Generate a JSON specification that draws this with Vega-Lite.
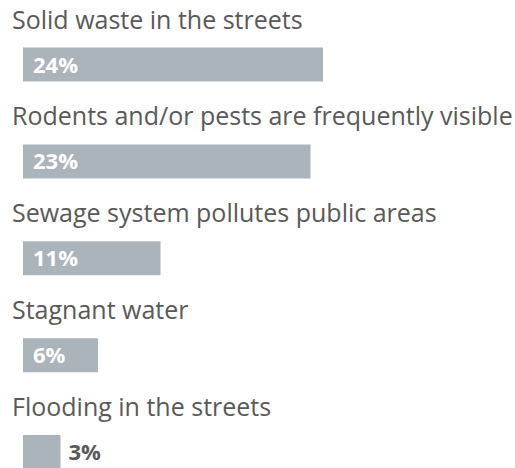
{
  "$schema": "https://vega.github.io/schema/vega-lite/v6.json",
  "width": 515,
  "height": 468,
  "padding": 0,
  "autosize": {"type": "none"},
  "background": "white",
  "config": {"view": {"stroke": null}},
  "data": {"values": [
    {"issue": "Solid waste in the streets", "value": 24},
    {"issue": "Rodents and/or pests are frequently visible", "value": 23},
    {"issue": "Sewage system pollutes public areas", "value": 11},
    {"issue": "Stagnant water", "value": 6},
    {"issue": "Flooding in the streets", "value": 3}
  ]},
  "transform": [{"calculate": "datum.value + '%'", "as": "label"}],
  "encoding": {
    "y": {"field": "issue", "type": "nominal", "sort": null,
          "scale": {"range": [16.05, 500.55], "paddingInner": 0, "paddingOuter": 0},
          "axis": null}
  },
  "layer": [
    {
      "mark": {"type": "bar", "color": "#abb3bb", "size": 34},
      "encoding": {
        "x": {"field": "value", "type": "quantitative",
              "scale": {"domain": [0, 24], "range": [23, 323], "nice": false, "zero": true},
              "axis": null}
      }
    },
    {
      "mark": {"type": "text", "align": "left", "baseline": "alphabetic", "dx": -11, "dy": -36,
               "font": "Open Sans", "fontSize": 25, "color": "#595959"},
      "encoding": {
        "x": {"datum": 0},
        "text": {"field": "issue"}
      }
    },
    {
      "transform": [{"filter": "datum.value >= 5"}],
      "mark": {"type": "text", "align": "left", "baseline": "middle", "dx": 10, "dy": 1,
               "font": "Open Sans", "fontSize": 22, "fontWeight": "bold", "color": "white"},
      "encoding": {
        "x": {"datum": 0},
        "text": {"field": "label"}
      }
    },
    {
      "transform": [{"filter": "datum.value < 5"}],
      "mark": {"type": "text", "align": "left", "baseline": "middle", "dx": 8, "dy": 1,
               "font": "Open Sans", "fontSize": 22, "fontWeight": "bold", "color": "#595959"},
      "encoding": {
        "x": {"field": "value", "type": "quantitative"},
        "text": {"field": "label"}
      }
    }
  ]
}
